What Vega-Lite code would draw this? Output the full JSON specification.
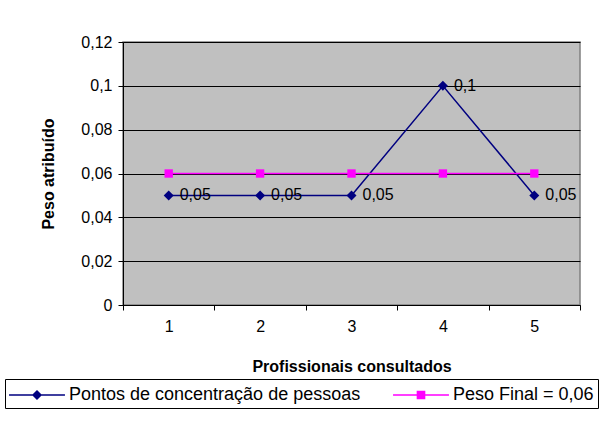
{
  "$schema": "https://vega.github.io/schema/vega-lite/v6.json",
  "width": 457,
  "height": 263,
  "autosize": {"type": "none"},
  "padding": {"left": 123, "top": 42, "right": 25, "bottom": 140},
  "background": "white",
  "config": {
    "font": "Liberation Sans",
    "locale": {"number": {"decimal": ",", "thousands": ".", "grouping": [3], "currency": ["", ""]}},
    "view": {"fill": "#C0C0C0", "stroke": "#808080", "strokeWidth": 1.5},
    "legend": {
      "symbolOffset": 16,
      "labelOffset": 20
    }
  },
  "data": {
    "values": [
      {"x": "1", "y": 0.05, "series": "Pontos de concentração de pessoas"},
      {"x": "2", "y": 0.05, "series": "Pontos de concentração de pessoas"},
      {"x": "3", "y": 0.05, "series": "Pontos de concentração de pessoas"},
      {"x": "4", "y": 0.1, "series": "Pontos de concentração de pessoas"},
      {"x": "5", "y": 0.05, "series": "Pontos de concentração de pessoas"},
      {"x": "1", "y": 0.06, "series": "Peso Final = 0,06"},
      {"x": "2", "y": 0.06, "series": "Peso Final = 0,06"},
      {"x": "3", "y": 0.06, "series": "Peso Final = 0,06"},
      {"x": "4", "y": 0.06, "series": "Peso Final = 0,06"},
      {"x": "5", "y": 0.06, "series": "Peso Final = 0,06"}
    ]
  },
  "encoding": {
    "x": {
      "field": "x", "type": "ordinal",
      "scale": {"type": "band", "paddingInner": 0, "paddingOuter": 0},
      "axis": {
        "title": "Profissionais consultados",
        "titleFont": "Liberation Sans", "titleFontSize": 16, "titleFontWeight": "bold", "titleColor": "#000",
        "titlePadding": 24,
        "labelAngle": 0, "labelFontSize": 16, "labelColor": "#000", "labelPadding": 8,
        "tickBand": "extent", "tickColor": "#000", "tickSize": 5,
        "domainColor": "#000", "domainWidth": 1, "grid": false
      }
    },
    "y": {
      "field": "y", "type": "quantitative",
      "scale": {"domain": [0, 0.12], "nice": false, "zero": true},
      "axis": {
        "title": "Peso atribuído",
        "titleFont": "Liberation Sans", "titleFontSize": 16, "titleFontWeight": "bold", "titleColor": "#000",
        "titlePadding": 24,
        "values": [0, 0.02, 0.04, 0.06, 0.08, 0.1, 0.12],
        "format": ".2~f",
        "labelFontSize": 16, "labelColor": "#000", "labelPadding": 6,
        "tickColor": "#000", "tickSize": 5,
        "domainColor": "#000", "domainWidth": 1,
        "grid": true, "gridColor": "#000", "gridWidth": 1
      }
    },
    "color": {
      "field": "series", "type": "nominal",
      "scale": {"domain": ["Pontos de concentração de pessoas", "Peso Final = 0,06"], "range": ["#000080", "#FF00FF"]},
      "legend": {
        "title": null,
        "orient": "none",
        "legendX": -118,
        "legendY": 337,
        "direction": "horizontal",
        "fillColor": "white",
        "strokeColor": "#000",
        "padding": 4,
        "labelFontSize": 18,
        "labelColor": "#000",
        "labelLimit": 0,
        "columnPadding": 32,
        "symbolSize": 576,
        "symbolStrokeWidth": 0,
        "symbolOpacity": 1
      }
    }
  },
  "layer": [
    {"mark": {"type": "line", "strokeWidth": 1.5}},
    {
      "transform": [{"filter": "datum.series === 'Pontos de concentração de pessoas'"}],
      "mark": {"type": "point", "filled": true, "opacity": 1, "shape": "diamond", "size": 100}
    },
    {
      "transform": [{"filter": "datum.series === 'Peso Final = 0,06'"}],
      "mark": {"type": "point", "filled": true, "opacity": 1, "shape": "square", "size": 70}
    },
    {
      "transform": [{"filter": "false"}],
      "mark": {"type": "point", "filled": true, "opacity": 1},
      "encoding": {
        "shape": {
          "field": "series", "type": "nominal",
          "scale": {
            "domain": ["Pontos de concentração de pessoas", "Peso Final = 0,06"],
            "range": [
              "M-2.33,-0.0625H2.33V0.0625H-2.33ZM-0.42,0L0,-0.42L0.42,0L0,0.42Z",
              "M-2.33,-0.0625H2.33V0.0625H-2.33ZM-0.36,-0.36H0.36V0.36H-0.36Z"
            ]
          },
          "legend": {
            "title": null,
            "orient": "none",
            "legendX": -118,
            "legendY": 337,
            "direction": "horizontal",
            "fillColor": "white",
            "strokeColor": "#000",
            "padding": 4,
            "labelFontSize": 18,
            "labelColor": "#000",
            "labelLimit": 0,
            "columnPadding": 32,
            "symbolSize": 576,
            "symbolStrokeWidth": 0,
            "symbolOpacity": 1
          }
        }
      }
    },
    {
      "transform": [{"filter": "datum.series === 'Pontos de concentração de pessoas'"}],
      "mark": {"type": "text", "align": "left", "baseline": "middle", "dx": 11, "fontSize": 16, "color": "#000"},
      "encoding": {
        "text": {"field": "y", "type": "quantitative", "format": ".2~f"},
        "color": {"value": "#000"}
      }
    }
  ]
}
